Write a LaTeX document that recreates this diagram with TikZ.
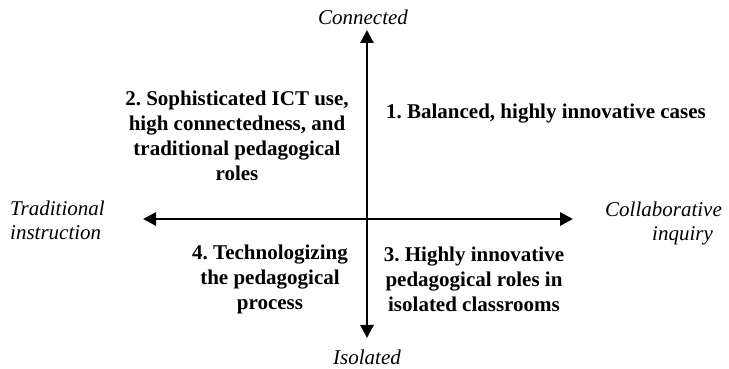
\documentclass[tikz,border=0pt]{standalone}
\usepackage{fontspec}
\setmainfont{Liberation Serif}
\usetikzlibrary{arrows.meta}
\tikzset{
  quad/.style={font=\fontsize{21}{25}\selectfont\bfseries\frenchspacing, align=center, inner sep=0pt},
  axislabel/.style={font=\fontsize{21}{24}\selectfont\itshape, inner sep=0pt},
  axis/.style={line width=2.8pt, -{Triangle[length=13pt,width=13pt]}}
}
\begin{document}
\begin{tikzpicture}[x=1pt,y=1pt]
\useasboundingbox (0,0) rectangle (729,369);
\coordinate (o) at (367,150);
\coordinate (top) at (367,339);
\coordinate (bot) at (367,31);
\coordinate (lft) at (143,150);
\coordinate (rgt) at (573,150);
\draw[axis] (o) -- (top);
\draw[axis] (o) -- (bot);
\draw[axis] (o) -- (lft);
\draw[axis] (o) -- (rgt);
\node[axislabel, anchor=base] (conn) at (363,344) {Connected};
\node[axislabel, anchor=base] (iso) at (367,4) {Isolated};
\node[axislabel, align=left, anchor=north west] (trad) at (10,168) {Traditional\\instruction};
\node[axislabel, align=left, anchor=north west] (coll) at (605,167) {Collaborative\\\hspace*{47pt}inquiry};
\node[quad] (q2) at (237,233) {2. Sophisticated ICT use,\\high connectedness, and\\traditional pedagogical\\roles};
\node[quad] (q1) at (546,255) {1. Balanced, highly innovative cases};
\node[quad] (q4) at (270,90) {4. Technologizing\\the pedagogical\\process};
\node[quad] (q3) at (474,90) {3. Highly innovative\\pedagogical roles in\\isolated classrooms};
\end{tikzpicture}
\end{document}
